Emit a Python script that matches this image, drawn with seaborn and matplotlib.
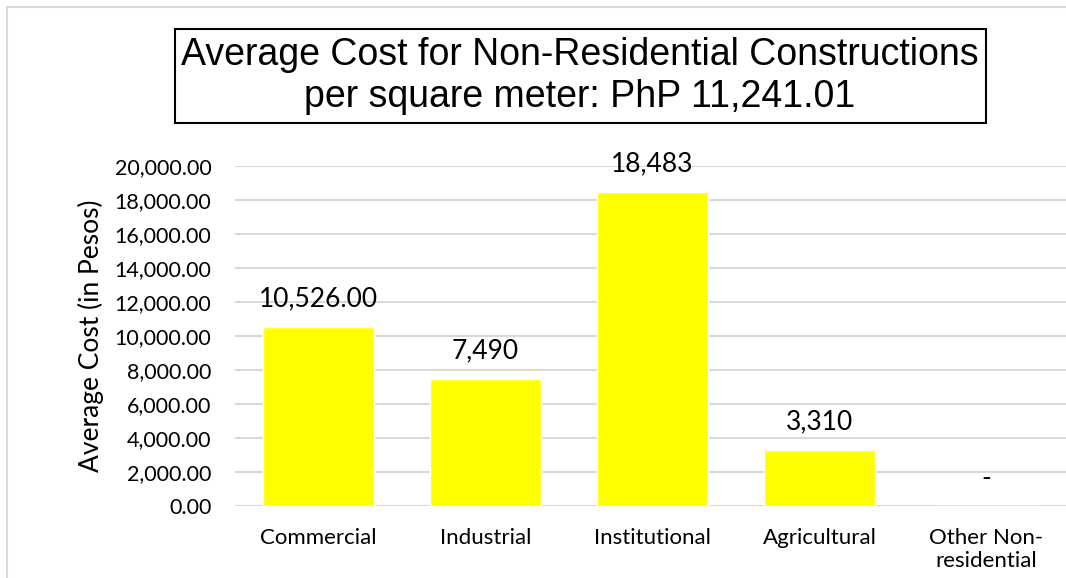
import matplotlib
matplotlib.use("Agg")
import matplotlib.pyplot as plt
from matplotlib.patches import Rectangle
from matplotlib.ticker import FuncFormatter
import seaborn as sns
import pandas as pd

# data
categories = ["Commercial", "Industrial", "Institutional", "Agricultural", "Other Non-\nresidential"]
avg_cost = [10526.00, 7490, 18483, 3310, 0]
value_labels = ["10,526.00", "7,490", "18,483", "3,310", "-"]
yticks = list(range(0, 20001, 2000))
title = "Average Cost for Non-Residential Constructions\nper square meter: PhP 11,241.01"

sns.set_style("white")
plt.rcParams["font.family"] = ["Lato", "DejaVu Sans"]
plt.rcParams["text.color"] = "black"

df = pd.DataFrame({"category": categories, "cost": avg_cost})

W, H = 1066, 578
fig = plt.figure(figsize=(W / 100, H / 100), dpi=100)

# plot area in pixels: x 235..1070, y 166..506
ax = fig.add_axes([235 / W, 1 - 506 / H, 835 / W, (506 - 165.7) / H])
sns.barplot(data=df, x="category", y="cost", color="#FFFF00", width=0.67,
            saturation=1, ax=ax, zorder=3)

ax.set_ylim(0, 20000)
ax.set_xlim(-0.5, len(categories) - 0.5)
ax.set_yticks(yticks)
ax.yaxis.set_major_formatter(FuncFormatter(lambda v, p: f"{v:,.2f}"))
ax.grid(axis="y", color="#D9D9D9", linewidth=1.5, zorder=0)
ax.set_axisbelow(True)
for s in ax.spines.values():
    s.set_visible(False)
ax.tick_params(axis="y", length=0, pad=17, labelsize=15.5, labelcolor="black")
ax.tick_params(axis="x", length=0, pad=16, labelsize=16, labelcolor="black")
ax.set_xlabel("")
ax.set_ylabel("Average Cost (in Pesos)", fontsize=19, color="black")
ax.yaxis.set_label_coords((104 - 235) / 835, 0.5)

for i, (v, lab) in enumerate(zip(avg_cost, value_labels)):
    ax.annotate(lab, (i, v), xytext=(0, 20), textcoords="offset points",
                ha="center", va="center", fontsize=19, color="black")

# title box
fig.patches.append(Rectangle((175 / W, 1 - 123 / H), (986 - 175) / W, (123 - 29) / H,
                             transform=fig.transFigure, fill=False,
                             edgecolor="black", linewidth=1.5, zorder=5))
fig.text(580 / W, 1 - 76 / H, title, ha="center", va="center", fontsize=27,
         family=["Liberation Sans", "DejaVu Sans"], color="black", linespacing=1.22)

# outer chart border (light gray, cropped on right/bottom)
fig.patches.append(Rectangle((7 / W, -0.05), 1.1, 1 - 7 / H + 0.05,
                             transform=fig.transFigure, fill=False,
                             edgecolor="#D9D9D9", linewidth=1.5))

fig.savefig("out.png", dpi=100)
